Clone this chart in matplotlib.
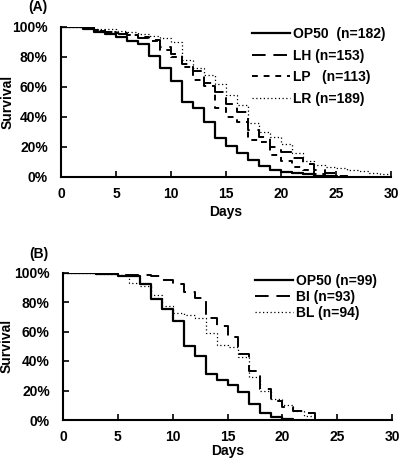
import matplotlib
matplotlib.use("Agg")
import matplotlib.pyplot as plt
from matplotlib.ticker import FuncFormatter

plt.rcParams["font.family"] = ["Liberation Sans", "DejaVu Sans"]
plt.rcParams["font.weight"] = "bold"
plt.rcParams["font.size"] = 10

# panel A data (survival fraction from each day on, step post)
days_a = list(range(0, 31))
op50_a = [1.0, 1.0, 0.99, 0.97, 0.955, 0.935, 0.91, 0.885, 0.805, 0.727, 0.638, 0.497, 0.459, 0.369,
          0.257, 0.21, 0.16, 0.116, 0.074, 0.046, 0.034, 0.027, 0.02, 0.01, 0.005, 0.0]
lh_a = [1.0, 1.0, 1.0, 0.975, 0.965, 0.955, 0.945, 0.93, 0.915, 0.87, 0.817, 0.756, 0.705, 0.626,
        0.57, 0.488, 0.436, 0.313, 0.268, 0.20, 0.168, 0.127, 0.086, 0.045, 0.03, 0.01, 0.0]
lp_a = [1.0, 1.0, 1.0, 0.98, 0.97, 0.96, 0.95, 0.935, 0.91, 0.85, 0.80, 0.735, 0.65, 0.61,
        0.46, 0.40, 0.37, 0.25, 0.235, 0.145, 0.11, 0.07, 0.05, 0.02, 0.01, 0.01, 0.0]
lr_a = [1.0, 1.0, 1.0, 0.99, 0.985, 0.975, 0.965, 0.955, 0.94, 0.93, 0.90, 0.78, 0.725, 0.68,
        0.62, 0.55, 0.48, 0.36, 0.30, 0.265, 0.22, 0.16, 0.11, 0.08, 0.07, 0.06, 0.05, 0.04,
        0.03, 0.02, 0.0]
labels_a = ["OP50  (n=182)", "LH (n=153)", "LP   (n=113)", "LR (n=189)"]

# panel B data
days_b = list(range(0, 31))
op50_b = [1.0, 1.0, 1.0, 0.99, 0.99, 0.975, 0.975, 0.925, 0.82, 0.75, 0.67, 0.50, 0.435, 0.31,
          0.268, 0.24, 0.19, 0.11, 0.045, 0.023, 0.01, 0.0]
bi_b = [1.0, 1.0, 1.0, 0.99, 0.99, 0.985, 0.98, 0.98, 0.975, 0.95, 0.92, 0.87, 0.827, 0.69,
        0.635, 0.56, 0.45, 0.33, 0.21, 0.13, 0.09, 0.06, 0.05, 0.0]
bl_b = [1.0, 1.0, 1.0, 0.99, 0.99, 0.98, 0.93, 0.91, 0.85, 0.775, 0.725, 0.714, 0.69, 0.59,
        0.51, 0.494, 0.43, 0.29, 0.20, 0.14, 0.10, 0.06, 0.03, 0.0]
labels_b = ["OP50 (n=99)", "BI (n=93)", "BL (n=94)"]

styles_a = [dict(ls="-", lw=1.6), dict(ls=(0, (7, 4)), lw=1.4), dict(ls=(0, (3, 3)), lw=1.4),
            dict(ls=(0, (1, 2)), lw=0.9)]
styles_b = [dict(ls="-", lw=1.6), dict(ls=(0, (7, 4)), lw=1.4), dict(ls=(0, (1, 2)), lw=0.9)]

W, H = 400.0, 466.0
fig = plt.figure(figsize=(4.0, 4.66), dpi=100)
ax_a = fig.add_axes([61 / W, 1 - 177 / H, 330 / W, 150 / H])
ax_b = fig.add_axes([63 / W, 1 - 420 / H, 329 / W, 147.5 / H])


def style_axis(ax, xlab_y, ylab_x):
    ax.set_xlim(0, 30)
    ax.set_ylim(0, 1.0)
    ax.set_xticks(range(0, 31, 5))
    ax.set_yticks([0, 0.2, 0.4, 0.6, 0.8, 1.0])
    ax.yaxis.set_major_formatter(FuncFormatter(lambda v, p: "{:.0f}%".format(v * 100)))
    ax.spines["top"].set_visible(False)
    ax.spines["right"].set_visible(False)
    ax.spines["left"].set_linewidth(1.5)
    ax.spines["bottom"].set_linewidth(1.5)
    ax.tick_params(direction="in", length=4, width=1.2, labelsize=10)
    ax.tick_params(axis="x", pad=7)
    ax.tick_params(axis="y", pad=9.5)
    ax.set_xlabel("Days", fontweight="bold", fontsize=10)
    ax.set_ylabel("Survival", fontweight="bold", fontsize=10)
    ax.xaxis.set_label_coords(0.5, xlab_y)
    ax.yaxis.set_label_coords(ylab_x, 0.5)


for series, label, st in zip([op50_a, lh_a, lp_a, lr_a], labels_a, styles_a):
    ax_a.step(days_a[:len(series)], series, where="post", color="black", label=label, **st)
style_axis(ax_a, -0.187, -0.142)
ax_a.legend(loc="upper left", bbox_to_anchor=(252 / W, 1 - 27 / H), bbox_transform=fig.transFigure,
            frameon=False, fontsize=10, borderpad=0, borderaxespad=0,
            handlelength=2.75, handletextpad=0.2, labelspacing=0.55)
fig.text(28 / W, 1.0, "(A)", va="top", ha="left", fontweight="bold", fontsize=10)

for series, label, st in zip([op50_b, bi_b, bl_b], labels_b, styles_b):
    ax_b.step(days_b[:len(series)], series, where="post", color="black", label=label, **st)
style_axis(ax_b, -0.16, -0.149)
ax_b.legend(loc="upper left", bbox_to_anchor=(255 / W, 1 - 273.5 / H), bbox_transform=fig.transFigure,
            frameon=False, fontsize=10, borderpad=0, borderaxespad=0,
            handlelength=2.75, handletextpad=0.2, labelspacing=0.15)
fig.text(29 / W, 1 - 247 / H, "(B)", va="top", ha="left", fontweight="bold", fontsize=10)

plt.savefig("out.png", dpi=100)
